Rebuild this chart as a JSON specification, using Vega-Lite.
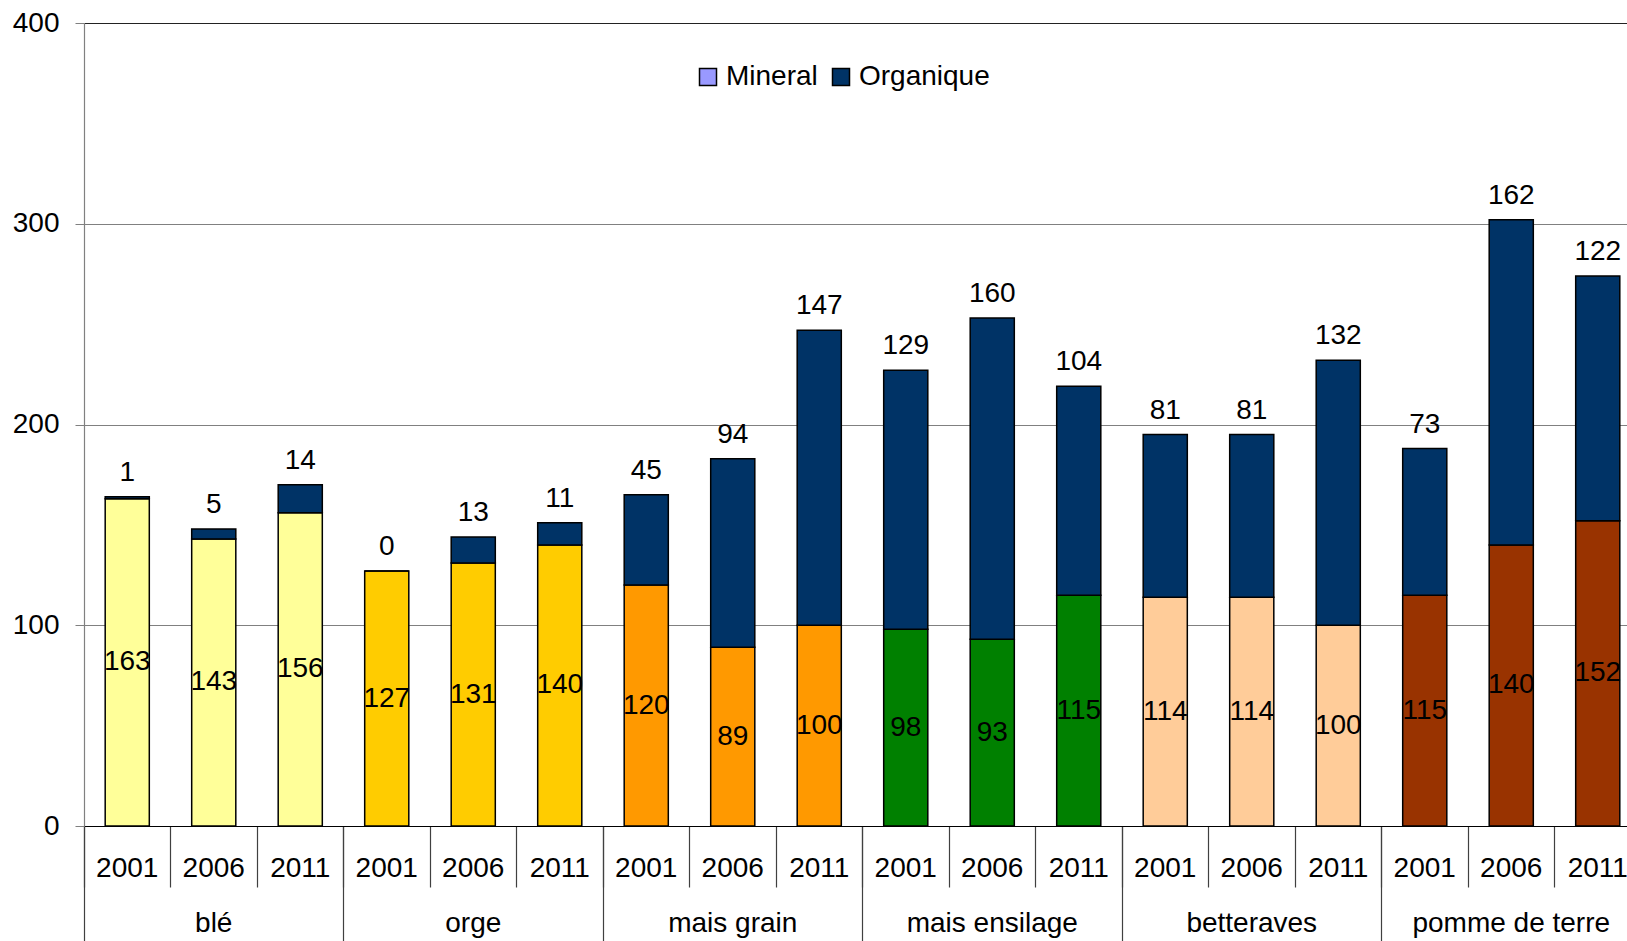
{
  "$schema": "https://vega.github.io/schema/vega-lite/v6.json",
  "autosize": {"type": "none"},
  "padding": {"left": 84, "top": 23, "right": 0, "bottom": 115},
  "width": 1543,
  "height": 803,
  "config": {"font": "Liberation Sans", "view": {"stroke": null}},
  "data": {"values": [
    {"crop": "blé", "year": "2001", "key": "blé|2001", "serie": "Mineral", "value": 163},
    {"crop": "blé", "year": "2001", "key": "blé|2001", "serie": "Organique", "value": 1},
    {"crop": "blé", "year": "2006", "key": "blé|2006", "serie": "Mineral", "value": 143},
    {"crop": "blé", "year": "2006", "key": "blé|2006", "serie": "Organique", "value": 5},
    {"crop": "blé", "year": "2011", "key": "blé|2011", "serie": "Mineral", "value": 156},
    {"crop": "blé", "year": "2011", "key": "blé|2011", "serie": "Organique", "value": 14},
    {"crop": "orge", "year": "2001", "key": "orge|2001", "serie": "Mineral", "value": 127},
    {"crop": "orge", "year": "2001", "key": "orge|2001", "serie": "Organique", "value": 0},
    {"crop": "orge", "year": "2006", "key": "orge|2006", "serie": "Mineral", "value": 131},
    {"crop": "orge", "year": "2006", "key": "orge|2006", "serie": "Organique", "value": 13},
    {"crop": "orge", "year": "2011", "key": "orge|2011", "serie": "Mineral", "value": 140},
    {"crop": "orge", "year": "2011", "key": "orge|2011", "serie": "Organique", "value": 11},
    {"crop": "mais grain", "year": "2001", "key": "mais grain|2001", "serie": "Mineral", "value": 120},
    {"crop": "mais grain", "year": "2001", "key": "mais grain|2001", "serie": "Organique", "value": 45},
    {"crop": "mais grain", "year": "2006", "key": "mais grain|2006", "serie": "Mineral", "value": 89},
    {"crop": "mais grain", "year": "2006", "key": "mais grain|2006", "serie": "Organique", "value": 94},
    {"crop": "mais grain", "year": "2011", "key": "mais grain|2011", "serie": "Mineral", "value": 100},
    {"crop": "mais grain", "year": "2011", "key": "mais grain|2011", "serie": "Organique", "value": 147},
    {"crop": "mais ensilage", "year": "2001", "key": "mais ensilage|2001", "serie": "Mineral", "value": 98},
    {"crop": "mais ensilage", "year": "2001", "key": "mais ensilage|2001", "serie": "Organique", "value": 129},
    {"crop": "mais ensilage", "year": "2006", "key": "mais ensilage|2006", "serie": "Mineral", "value": 93},
    {"crop": "mais ensilage", "year": "2006", "key": "mais ensilage|2006", "serie": "Organique", "value": 160},
    {"crop": "mais ensilage", "year": "2011", "key": "mais ensilage|2011", "serie": "Mineral", "value": 115},
    {"crop": "mais ensilage", "year": "2011", "key": "mais ensilage|2011", "serie": "Organique", "value": 104},
    {"crop": "betteraves", "year": "2001", "key": "betteraves|2001", "serie": "Mineral", "value": 114},
    {"crop": "betteraves", "year": "2001", "key": "betteraves|2001", "serie": "Organique", "value": 81},
    {"crop": "betteraves", "year": "2006", "key": "betteraves|2006", "serie": "Mineral", "value": 114},
    {"crop": "betteraves", "year": "2006", "key": "betteraves|2006", "serie": "Organique", "value": 81},
    {"crop": "betteraves", "year": "2011", "key": "betteraves|2011", "serie": "Mineral", "value": 100},
    {"crop": "betteraves", "year": "2011", "key": "betteraves|2011", "serie": "Organique", "value": 132},
    {"crop": "pomme de terre", "year": "2001", "key": "pomme de terre|2001", "serie": "Mineral", "value": 115},
    {"crop": "pomme de terre", "year": "2001", "key": "pomme de terre|2001", "serie": "Organique", "value": 73},
    {"crop": "pomme de terre", "year": "2006", "key": "pomme de terre|2006", "serie": "Mineral", "value": 140},
    {"crop": "pomme de terre", "year": "2006", "key": "pomme de terre|2006", "serie": "Organique", "value": 162},
    {"crop": "pomme de terre", "year": "2011", "key": "pomme de terre|2011", "serie": "Mineral", "value": 152},
    {"crop": "pomme de terre", "year": "2011", "key": "pomme de terre|2011", "serie": "Organique", "value": 122}
  ]},
  "resolve": {"scale": {"y": "independent", "fill": "independent"}, "axis": {"x": "independent", "y": "independent"}},
  "layer": [
    {
      "mark": {"type": "bar", "width": {"band": 0.51}, "stroke": "black", "strokeWidth": 1.5},
      "encoding": {
        "x": {"field": "key", "type": "nominal", "sort": null,
              "scale": {"paddingInner": 0, "paddingOuter": 0, "range": [0, 1557]},
              "axis": {"orient": "bottom", "title": null, "labels": false, "domain": false, "grid": false,
                       "ticks": true, "bandPosition": 0, "tickSize": 115, "tickColor": "#404040", "tickWidth": 1.2,
                       "values": ["blé|2001", "orge|2001", "mais grain|2001", "mais ensilage|2001", "betteraves|2001", "pomme de terre|2001"]}},
        "y": {"datum": 0, "type": "quantitative", "scale": {"domain": [0, 400]}, "axis": null},
        "fill": {"field": "serie", "type": "nominal",
                 "scale": {"domain": ["Mineral", "Organique"], "range": ["#9999FF", "#003366"]},
                 "legend": {"title": null, "orient": "none", "direction": "horizontal", "legendX": 610, "legendY": 40,
                            "padding": 0, "symbolType": "square", "symbolSize": 289, "symbolStrokeColor": "black",
                            "symbolStrokeWidth": 1.5, "labelFontSize": 28, "labelColor": "black", "labelOffset": 4,
                            "columnPadding": 9, "labelFont": "Liberation Sans"}},
        "detail": {"field": "serie"}
      }
    },
    {
      "mark": {"type": "bar", "width": {"band": 0.51}, "stroke": "black", "strokeWidth": 1.5},
      "encoding": {
        "x": {"field": "key", "type": "nominal", "sort": null,
              "axis": {"orient": "bottom", "title": null, "labels": false, "domain": true, "domainColor": "black", "domainWidth": 1.2,
                       "grid": false, "ticks": true, "bandPosition": 0, "tickSize": 61, "tickColor": "#404040", "tickWidth": 1.2}},
        "y": {"field": "value", "type": "quantitative", "aggregate": "sum", "stack": "zero",
              "scale": {"domain": [0, 400]},
              "axis": {"title": null, "values": [0, 100, 200, 300, 400], "tickSize": 9, "tickColor": "#808080",
                       "domainColor": "#808080", "domainWidth": 1.2, "labelFontSize": 28, "labelColor": "black",
                       "labelPadding": 16, "labelFlush": false, "labelBound": false, "grid": true,
                       "gridColor": {"condition": {"test": "datum.value === 400", "value": "#222222"}, "value": "#808080"},
                       "gridWidth": 1.2}},
        "order": {"field": "serie", "sort": "ascending"},
        "detail": {"field": "serie"},
        "fill": {"condition": {"test": "datum.serie === 'Organique'", "value": "#003366"},
                 "field": "crop", "type": "nominal",
                 "scale": {"domain": ["blé", "orge", "mais grain", "mais ensilage", "betteraves", "pomme de terre"],
                           "range": ["#FFFF99", "#FFCC00", "#FF9900", "#008000", "#FFCC99", "#993300"]},
                 "legend": null}
      }
    },
    {
      "mark": {"type": "text", "fontSize": 28, "color": "black", "baseline": "middle", "dy": -24},
      "encoding": {
        "x": {"field": "key", "type": "nominal", "sort": null,
              "axis": {"orient": "bottom", "title": null, "labels": true, "labelExpr": "split(datum.label, '|')[1]",
                       "ticks": false, "domain": false, "grid": false, "labelPadding": 42, "labelBaseline": "middle",
                       "labelFontSize": 28, "labelColor": "black", "labelAngle": 0, "labelOverlap": false}},
        "y": {"field": "value", "type": "quantitative", "aggregate": "sum", "stack": "zero",
              "scale": {"domain": [0, 400]}, "axis": null},
        "order": {"field": "serie", "sort": "ascending"},
        "detail": {"field": "serie"},
        "text": {"condition": {"test": "datum.serie === 'Organique'", "field": "value", "type": "quantitative"}, "value": ""}
      }
    },
    {
      "transform": [{"filter": "datum.serie === 'Mineral'"}],
      "mark": {"type": "text", "fontSize": 28, "color": "black", "baseline": "middle"},
      "encoding": {
        "x": {"field": "key", "type": "nominal", "sort": null,
              "axis": {"orient": "bottom", "title": null, "labels": true, "labelExpr": "split(datum.label, '|')[0]",
                       "values": ["blé|2006", "orge|2006", "mais grain|2006", "mais ensilage|2006", "betteraves|2006", "pomme de terre|2006"],
                       "ticks": false, "domain": false, "grid": false, "labelPadding": 97, "labelBaseline": "middle",
                       "labelFontSize": 28, "labelColor": "black", "labelAngle": 0, "labelOverlap": false, "labelLimit": 0}},
        "y": {"field": "value", "type": "quantitative", "stack": null, "scale": {"domain": [0, 800]}, "axis": null},
        "text": {"field": "value", "type": "quantitative"}
      }
    }
  ]
}
